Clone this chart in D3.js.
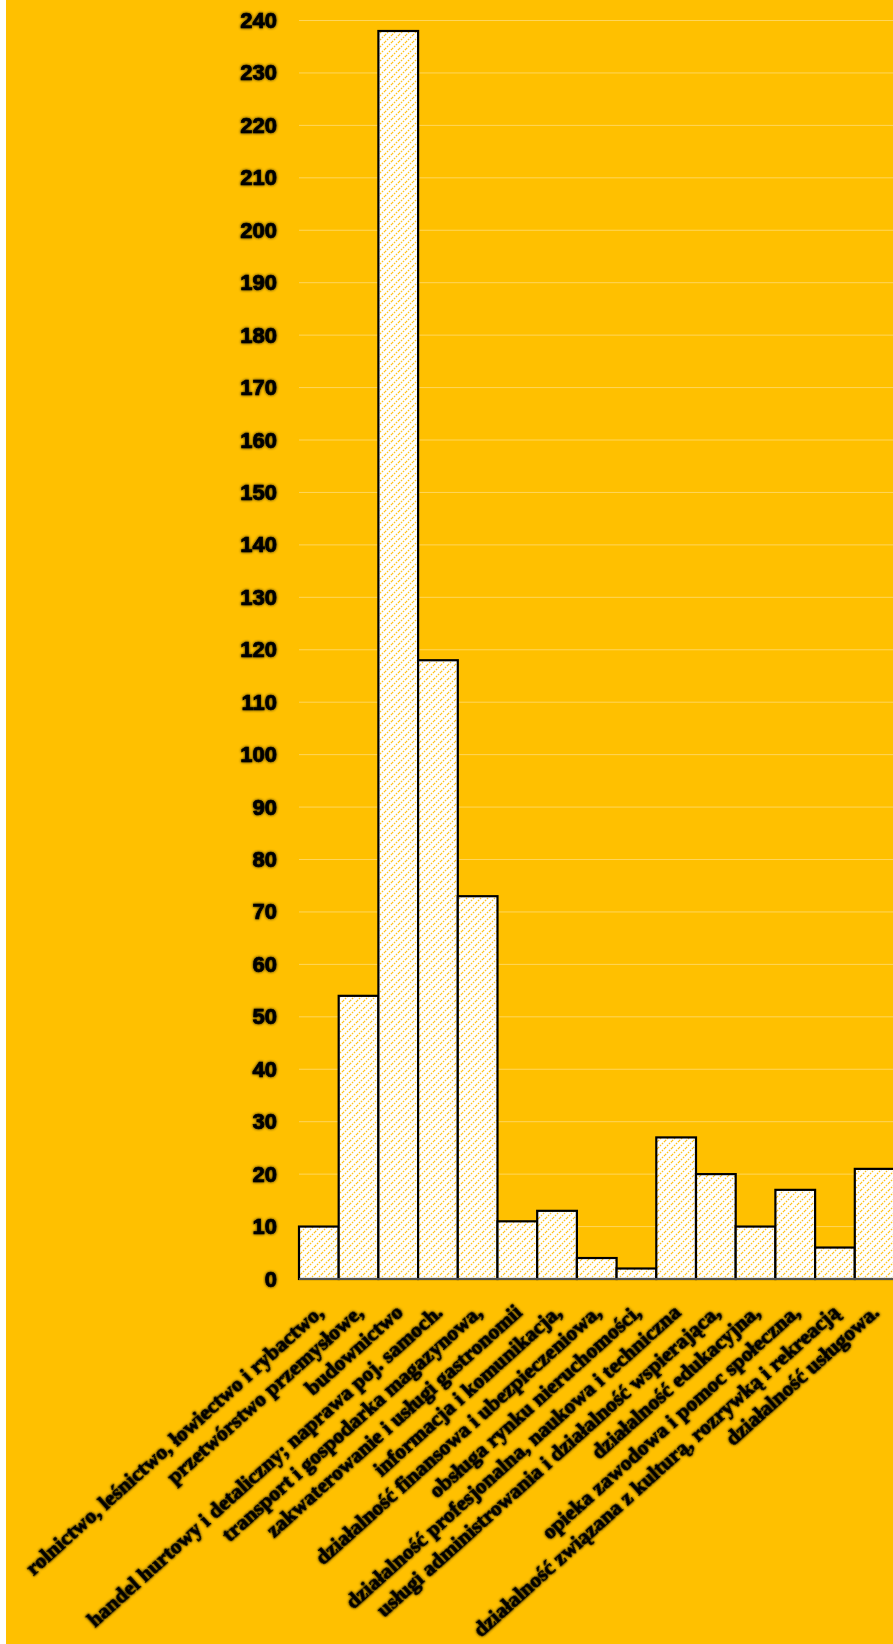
<!DOCTYPE html>
<html>
<head>
<meta charset="utf-8">
<script src="https://cdn.jsdelivr.net/npm/d3@7"></script>
<style>
  html, body { margin: 0; padding: 0; background: #FFC000; }
  svg { display: block; }
</style>
</head>
<body>
<script>
// categories (PKD sections) and counts
const categories = [
  "rolnictwo, leśnictwo, łowiectwo i rybactwo,",
  "przetwórstwo przemysłowe,",
  "budownictwo",
  "handel hurtowy i detaliczny; naprawa poj. samoch.",
  "transport i gospodarka magazynowa,",
  "zakwaterowanie i usługi gastronomii",
  "informacja i komunikacja,",
  "działalność finansowa i ubezpieczeniowa,",
  "obsługa rynku nieruchomości,",
  "działalność profesjonalna, naukowa i techniczna",
  "usługi administrowania i działalność wspierająca,",
  "działalność edukacyjna,",
  "opieka zawodowa i pomoc społeczna,",
  "działalność związana z kulturą, rozrywką i rekreacją",
  "działalność usługowa."
];
const values = [10, 54, 238, 118, 73, 11, 13, 4, 2, 27, 20, 10, 17, 6, 21];
const yTicks = d3.range(0, 241, 10);

const width = 893,
  height = 1644;

const svg = d3.select('body').append('svg')
  .attr('width', width)
  .attr('height', height);

const defs = svg.append('defs');

// hatch fill like the excel pattern
const pat = defs.append('pattern')
  .attr('id', 'hatch')
  .attr('patternUnits', 'userSpaceOnUse')
  .attr('width', 7)
  .attr('height', 7);
pat.append('rect').attr('width', 7).attr('height', 7).attr('fill', '#fff');
pat.append('path')
  .attr('d', 'M-1,1 l2,-2 M0,7 l7,-7 M6,8 l2,-2')
  .attr('stroke', '#FFC21A')
  .attr('stroke-width', 1.3)
  .attr('stroke-dasharray', '1.6,1.2');

// soft dark glow behind text
const glow = defs.append('filter').attr('id', 'glow')
  .attr('x', '-10%').attr('y', '-40%').attr('width', '120%').attr('height', '180%');
glow.append('feGaussianBlur').attr('in', 'SourceAlpha').attr('stdDeviation', 1.4).attr('result', 'b');
glow.append('feComponentTransfer').attr('in', 'b').attr('result', 'bb')
  .append('feFuncA').attr('type', 'linear').attr('slope', 0.85);
const merge = glow.append('feMerge');
merge.append('feMergeNode').attr('in', 'bb');
merge.append('feMergeNode').attr('in', 'SourceGraphic');

// white strip at left edge
svg.append('rect').attr('x', 0).attr('y', 0).attr('width', 6).attr('height', height).attr('fill', '#fff');
svg.append('rect').attr('x', 6).attr('y', 0).attr('width', width - 6).attr('height', height).attr('fill', '#FFC000');

const left = 299,
  bandW = 39.7;

const x = d3.scaleBand()
  .domain(categories)
  .range([left, left + bandW * categories.length])
  .padding(0);

const y = d3.scaleLinear()
  .domain([0, 240])
  .range([1279, 20.5]);

// gridlines
svg.append('g')
  .selectAll('line')
  .data(yTicks.slice(1))
  .enter()
  .append('line')
  .attr('x1', left)
  .attr('x2', width)
  .attr('y1', d => y(d))
  .attr('y2', d => y(d))
  .attr('stroke', '#FFD65C')
  .attr('stroke-width', 1);

// y axis labels
const yAxis = d3.axisLeft(y)
  .tickValues(yTicks)
  .tickSize(0)
  .tickPadding(22);

const yg = svg.append('g')
  .attr('transform', `translate(${left},0)`)
  .call(yAxis);
yg.select('.domain').remove();
yg.selectAll('text')
  .attr('font-family', '"Liberation Sans", Arial, sans-serif')
  .attr('font-weight', 'bold')
  .attr('font-size', 22)
  .attr('fill', '#000')
  .attr('stroke', '#000')
  .attr('stroke-width', 0.7)
  .attr('filter', 'url(#glow)');

// bars
svg.append('g')
  .selectAll('rect')
  .data(values)
  .enter()
  .append('rect')
  .attr('x', (d, i) => x(categories[i]))
  .attr('y', d => y(d))
  .attr('width', x.bandwidth())
  .attr('height', d => y(0) - y(d))
  .attr('fill', 'url(#hatch)')
  .attr('stroke', '#000')
  .attr('stroke-width', 2.2);

// zero axis line
svg.append('line')
  .attr('x1', left)
  .attr('x2', width)
  .attr('y1', y(0))
  .attr('y2', y(0))
  .attr('stroke', '#6e6e6e')
  .attr('stroke-width', 1.5);

// rotated category labels
svg.append('g')
  .selectAll('text')
  .data(categories)
  .enter()
  .append('text')
  .attr('transform', d => `translate(${x(d) + x.bandwidth() / 2 + 6},${y(0) + 35}) rotate(-42)`)
  .attr('text-anchor', 'end')
  .attr('font-family', '"Liberation Serif", "Times New Roman", serif')
  .attr('font-weight', 'bold')
  .attr('font-size', 21.5)
  .attr('fill', '#000')
  .attr('stroke', '#000')
  .attr('stroke-width', 0.7)
  .attr('filter', 'url(#glow)')
  .text(d => d);
</script>
</body>
</html>
